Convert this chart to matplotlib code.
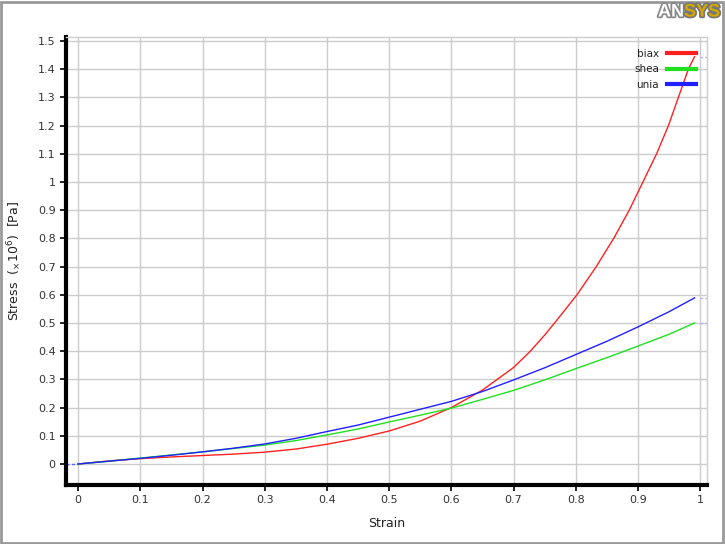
import matplotlib
matplotlib.use("Agg")
import matplotlib.pyplot as plt
import matplotlib.patheffects as pe
from matplotlib.lines import Line2D

strain = [0.0, 0.05, 0.1, 0.15, 0.2, 0.25, 0.3, 0.35, 0.4, 0.45, 0.5, 0.55, 0.6, 0.65,
          0.7, 0.75, 0.8, 0.85, 0.9, 0.95, 0.991]
shea = [0.0, 0.010, 0.021, 0.032, 0.043, 0.055, 0.067, 0.083, 0.103, 0.124, 0.149, 0.173,
        0.198, 0.229, 0.261, 0.298, 0.338, 0.377, 0.418, 0.460, 0.500]
unia = [0.0, 0.010, 0.020, 0.031, 0.043, 0.056, 0.071, 0.091, 0.115, 0.138, 0.166, 0.194,
        0.222, 0.257, 0.298, 0.341, 0.388, 0.435, 0.486, 0.540, 0.589]
biax_strain = [0.0, 0.05, 0.1, 0.15, 0.2, 0.25, 0.3, 0.35, 0.4, 0.45, 0.5, 0.55, 0.6,
               0.65, 0.7, 0.727, 0.75, 0.766, 0.802, 0.833, 0.861, 0.886, 0.908, 0.930,
               0.949, 0.965, 0.981, 0.991]
biax = [0.0, 0.011, 0.019, 0.025, 0.030, 0.035, 0.042, 0.053, 0.070, 0.091, 0.117, 0.152,
        0.200, 0.262, 0.342, 0.400, 0.457, 0.500, 0.600, 0.700, 0.800, 0.900, 1.000,
        1.100, 1.200, 1.300, 1.400, 1.444]
series_names = ["biax", "shea", "unia"]
colors = ["#ff2020", "#20e020", "#2020ff"]
xticks = [0, 0.1, 0.2, 0.3, 0.4, 0.5, 0.6, 0.7, 0.8, 0.9, 1]
xticklabels = ["0", "0.1", "0.2", "0.3", "0.4", "0.5", "0.6", "0.7", "0.8", "0.9", "1"]
yticks = [0, 0.1, 0.2, 0.3, 0.4, 0.5, 0.6, 0.7, 0.8, 0.9, 1, 1.1, 1.2, 1.3, 1.4, 1.5]
yticklabels = ["0", "0.1", "0.2", "0.3", "0.4", "0.5", "0.6", "0.7", "0.8", "0.9",
               "1", "1.1", "1.2", "1.3", "1.4", "1.5"]

fig = plt.figure(figsize=(7.25, 5.44), dpi=100)
W, H = 725, 544
ax = fig.add_axes([66 / W, 1 - 485 / H, (707 - 66) / W, (485 - 37) / H])

ax.set_xlim(-0.0195, 1.011)
ax.set_ylim(-0.0745, 1.514)

ax.plot([-0.02, 0], [0, 0], color="#6060ff", lw=1, ls=(0, (2, 2)))
for xs, ys, c in zip([biax_strain, strain, strain], [biax, shea, unia], colors):
    ax.plot(xs, ys, color=c, lw=1.0)
    ax.plot([1.0, 1.011], [ys[-1], ys[-1]], color="#b0b0ff", lw=1, ls=(0, (2, 1.5)),
            clip_on=False)

ax.set_xticks(xticks)
ax.set_xticklabels(xticklabels)
ax.set_yticks(yticks)
ax.set_yticklabels(yticklabels)
ax.grid(True, color="#cccccc", lw=1)
ax.set_axisbelow(True)
ax.tick_params(axis="both", labelsize=8, colors="black", labelcolor="#333333",
               direction="out", length=4, width=1.2)

for s in ["top", "right"]:
    ax.spines[s].set_color("#cccccc")
    ax.spines[s].set_linewidth(1)
for s in ["left", "bottom"]:
    ax.spines[s].set_color("black")
    ax.spines[s].set_linewidth(3)

ax.set_xlabel("Strain", fontsize=9, color="#222222", labelpad=8)
ax.set_ylabel("Stress  ($_{\\times}$10$^{6}$)  [Pa]", fontsize=9, color="#222222", labelpad=10)

handles = [Line2D([], [], color=c, lw=3) for c in colors]
leg = ax.legend(handles, series_names, loc="upper right", frameon=False, markerfirst=False,
                fontsize=7.5, handlelength=2.8, handletextpad=0.7, labelspacing=0.55,
                bbox_to_anchor=(0.997, 0.995))
for t in leg.get_texts():
    t.set_color("#222222")

# figure frame
fig.patches.append(plt.Rectangle((0.002, 0.002), 0.995, 0.995, transform=fig.transFigure,
                                 fill=False, edgecolor="#999999", lw=2))

# logo
fig.text(684 / W, 1 - 12 / H, "AN", fontsize=13, fontweight="bold", color="white",
         family="Liberation Sans", ha="right", va="center",
         path_effects=[pe.withStroke(linewidth=2.5, foreground="#888888")])
fig.text(684 / W, 1 - 12 / H, "SYS", fontsize=13, fontweight="bold", color="#d4a800",
         family="Liberation Sans", ha="left", va="center",
         path_effects=[pe.withStroke(linewidth=2.5, foreground="#777777")])

fig.savefig("out.png", dpi=100)
